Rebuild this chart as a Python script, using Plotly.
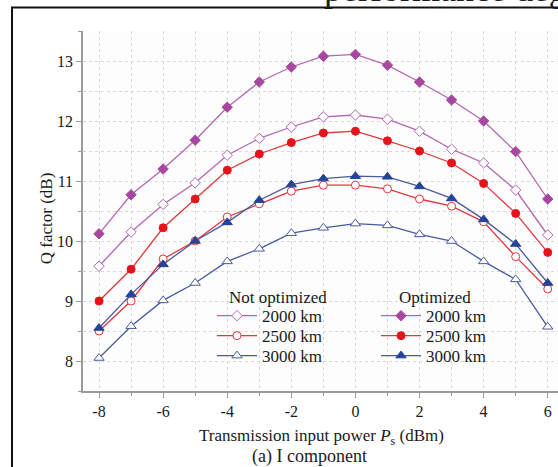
import plotly.graph_objects as go

# ---- data ----
power_dbm = [-8, -7, -6, -5, -4, -3, -2, -1, 0, 1, 2, 3, 4, 5, 6]

not_opt_2000 = [9.58, 10.15, 10.61, 10.97, 11.43, 11.71, 11.90, 12.07, 12.10, 12.03, 11.83, 11.53, 11.30, 10.85, 10.10]
not_opt_2500 = [8.50, 9.00, 9.70, 10.00, 10.40, 10.62, 10.83, 10.93, 10.93, 10.87, 10.70, 10.58, 10.32, 9.74, 9.20]
not_opt_3000 = [8.05, 8.58, 9.01, 9.30, 9.66, 9.87, 10.13, 10.22, 10.29, 10.26, 10.11, 10.00, 9.66, 9.36, 8.57]

opt_2000 = [10.12, 10.77, 11.20, 11.68, 12.23, 12.65, 12.90, 13.08, 13.11, 12.93, 12.65, 12.35, 12.00, 11.49, 10.70]
opt_2500 = [9.00, 9.53, 10.22, 10.70, 11.18, 11.45, 11.64, 11.80, 11.83, 11.67, 11.50, 11.30, 10.96, 10.46, 9.81]
opt_3000 = [8.55, 9.11, 9.61, 10.00, 10.31, 10.68, 10.94, 11.04, 11.08, 11.07, 10.91, 10.71, 10.36, 9.95, 9.30]

labels = ["2000 km", "2500 km", "3000 km"]

x_tickvals = [-8, -6, -4, -2, 0, 2, 4, 6]
x_ticktext = ["-8", "-6", "-4", "-2", "0", "2", "4", "6"]
y_tickvals = [8, 9, 10, 11, 12, 13]
y_ticktext = ["8", "9", "10", "11", "12", "13"]

SERIF = "Liberation Serif"
TXT = "#1a1a1a"
PURPLE_L, PURPLE_M = "#b466b2", "#a8479f"
RED_L, RED_M = "#e2363c", "#e5141c"
BLUE_L, BLUE_M = "#4a5a9e", "#25439a"

# plot area in pixels: left 83, right 558, top 30.5, bottom 391
L, R, T, B = 83, 558, 30.5, 391
W, H = 558, 467
pw, ph = R - L, B - T


def px(xp):
    return (xp - L) / pw


def py(yp):
    return (B - yp) / ph


fig = go.Figure()

not_opt = [not_opt_2000, not_opt_2500, not_opt_3000]
opt = [opt_2000, opt_2500, opt_3000]
lcols = [PURPLE_L, RED_L, BLUE_L]
mcols = [PURPLE_M, RED_M, BLUE_M]
symbols = ["diamond", "circle", "triangle-up"]
sizes = [8, 8, 9]
row_y = [317, 337, 357]

legend_layouts = {}
k = 1
for group, filled, lx in ((not_opt, False, 212), (opt, True, 376)):
    for vals, lab, lc, mc, sym, sz, ry in zip(group, labels, lcols, mcols, symbols, sizes, row_y):
        lname = "legend" if k == 1 else f"legend{k}"
        fig.add_trace(go.Scatter(
            x=power_dbm, y=vals, mode="lines+markers", name=lab,
            line=dict(color=lc, width=1.3),
            marker=dict(symbol=sym, size=sz,
                        color=mc if filled else "white",
                        line=dict(color=mc if filled else lc, width=1)),
            legend=lname))
        legend_layouts[lname] = dict(
            x=px(lx), y=py(ry - 19), xanchor="left", yanchor="top",
            bgcolor="rgba(0,0,0,0)", borderwidth=0, itemwidth=40,
            font=dict(family=SERIF, size=17, color=TXT))
        k += 1

axis_col = "#9a9a9a"
grid_col = "#d9d9d9"

fig.update_layout(
    width=W, height=H,
    margin=dict(l=L, r=W - R, t=T, b=H - B, pad=0, autoexpand=False),
    paper_bgcolor="white", plot_bgcolor="#fdfdfd",
    font=dict(family=SERIF, size=16, color=TXT),
    showlegend=True,
    xaxis=dict(
        range=[-8.5, -8.5 + pw / 32.05], automargin=False,
        tickmode="array", tickvals=x_tickvals, ticktext=x_ticktext,
        showline=True, linecolor=axis_col, linewidth=1.5,
        ticks="outside", ticklen=5, tickcolor=axis_col, tickwidth=1,
        tickfont=dict(family=SERIF, size=16, color=TXT),
        showgrid=True, gridcolor=grid_col, griddash="dot", gridwidth=1,
        minor=dict(tick0=0, dtick=1, showgrid=True, gridcolor=grid_col, griddash="dot",
                   ticks="outside", ticklen=3, tickcolor=axis_col),
        zeroline=False,
    ),
    yaxis=dict(
        range=[7.5, 13.5], automargin=False,
        tickmode="array", tickvals=y_tickvals, ticktext=y_ticktext,
        showline=True, linecolor=axis_col, linewidth=1.5,
        ticks="outside", ticklen=5, tickcolor=axis_col, tickwidth=1,
        tickfont=dict(family=SERIF, size=16, color=TXT),
        showgrid=True, gridcolor=grid_col, griddash="dot", gridwidth=1,
        minor=dict(tick0=0, dtick=0.5, showgrid=True, gridcolor=grid_col, griddash="dot",
                   ticks="outside", ticklen=3, tickcolor=axis_col),
        zeroline=False,
    ),
    **legend_layouts,
)

# outer figure frame
fig.add_shape(type="rect", xref="paper", yref="paper",
              x0=px(12), x1=px(575), y0=py(480), y1=py(7),
              line=dict(color="#111111", width=2), fillcolor="rgba(0,0,0,0)", layer="below")

ann = dict(xref="paper", yref="paper", showarrow=False)
fig.add_annotation(text="Q factor (dB)", x=px(46), y=py(218), textangle=-90,
                   xanchor="center", yanchor="middle",
                   font=dict(family=SERIF, size=17, color=TXT), **ann)
fig.add_annotation(text="Transmission input power <i>P</i><sub>s</sub> (dBm)",
                   x=px(321), y=py(437), xanchor="center", yanchor="middle",
                   font=dict(family=SERIF, size=17, color=TXT), **ann)
fig.add_annotation(text="(a) I component", x=px(309), y=py(457),
                   xanchor="center", yanchor="middle",
                   font=dict(family=SERIF, size=18, color=TXT), **ann)
fig.add_annotation(text="Not optimized", x=px(278), y=py(297),
                   xanchor="center", yanchor="middle",
                   font=dict(family=SERIF, size=17, color=TXT), **ann)
fig.add_annotation(text="Optimized", x=px(435), y=py(297),
                   xanchor="center", yanchor="middle",
                   font=dict(family=SERIF, size=17, color=TXT), **ann)
fig.add_annotation(text="performance deg", x=px(322), y=py(10),
                   xanchor="left", yanchor="bottom",
                   font=dict(family=SERIF, size=36, color=TXT), **ann)

fig.write_html("out.html")
